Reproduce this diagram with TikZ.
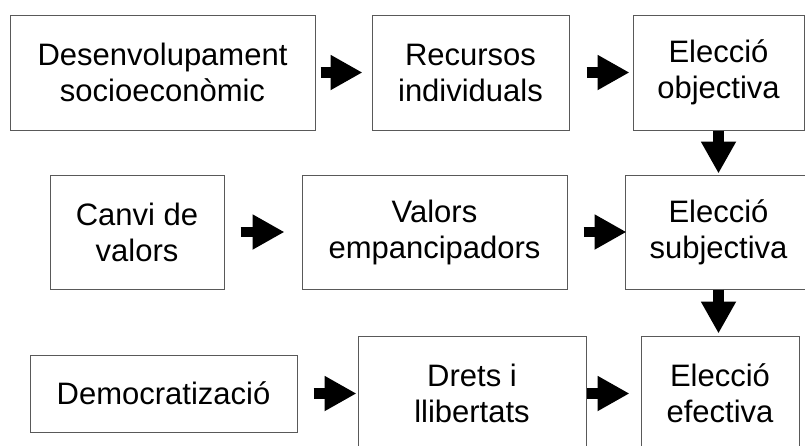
\documentclass[tikz,border=0pt]{standalone}
\usepackage{fontspec}
\setmainfont{Liberation Sans}
\usetikzlibrary{positioning,arrows.meta}

\tikzset{
  stepbox/.style={draw=black!65, line width=1pt, align=center, inner sep=0pt,
    font=\fontsize{31}{36}\selectfont},
  blockarrow/.style={line width=10.5pt, -{Triangle[length=32pt,width=33pt]}}
}

\begin{document}
\begin{tikzpicture}[x=1pt,y=-1pt]
\clip (0,0) rectangle (805,445);

\node[stepbox, minimum width=305pt, minimum height=115pt] (desen) at (162.5,72.5) {Desenvolupament\\socioeconòmic};
\node[stepbox, minimum width=197pt, minimum height=115pt] (recur) at (470.5,72.5) {Recursos\\individuals};
\node[stepbox, minimum width=171pt, minimum height=115pt] (objec) at (718.5,72.5) {Elecció\\objectiva};

\node[stepbox, minimum width=174pt, minimum height=114pt] (canvi) at (137,232) {Canvi de\\valors};
\node[stepbox, minimum width=265pt, minimum height=114pt] (valor) at (434.5,232) {Valors\\empancipadors};
\node[stepbox, minimum width=187pt, minimum height=114pt] (subje) at (718.5,232) {Elecció\\subjectiva};

\node[stepbox, minimum width=267pt, minimum height=77pt] (democ) at (163.5,393.5) {Democratizació};
\node[stepbox, minimum width=228pt, minimum height=115pt] (drets) at (472,393.5) {Drets i\\llibertats};
\node[stepbox, minimum width=158pt, minimum height=115pt] (efect) at (720,393.5) {Elecció\\efectiva};

\draw[blockarrow] ([xshift=5pt]desen.east) -- ([xshift=-9pt]recur.west);
\draw[blockarrow] ([xshift=17pt]recur.east) -- ([xshift=-3pt]objec.west);
\draw[blockarrow] ([xshift=16pt]canvi.east) -- ([xshift=-17pt]valor.west);
\draw[blockarrow] ([xshift=16pt]valor.east) -- ([xshift=2pt]subje.west);
\draw[blockarrow] ([xshift=16pt]democ.east) -- ([xshift=-1pt]drets.west);
\draw[blockarrow] (drets.east) -- ([xshift=-11pt]efect.west);

\draw[blockarrow] (objec.south) -- ([yshift=1pt]objec.south |- subje.north);
\draw[blockarrow] (subje.south) -- ([yshift=2pt]subje.south |- efect.north);
\end{tikzpicture}
\end{document}
